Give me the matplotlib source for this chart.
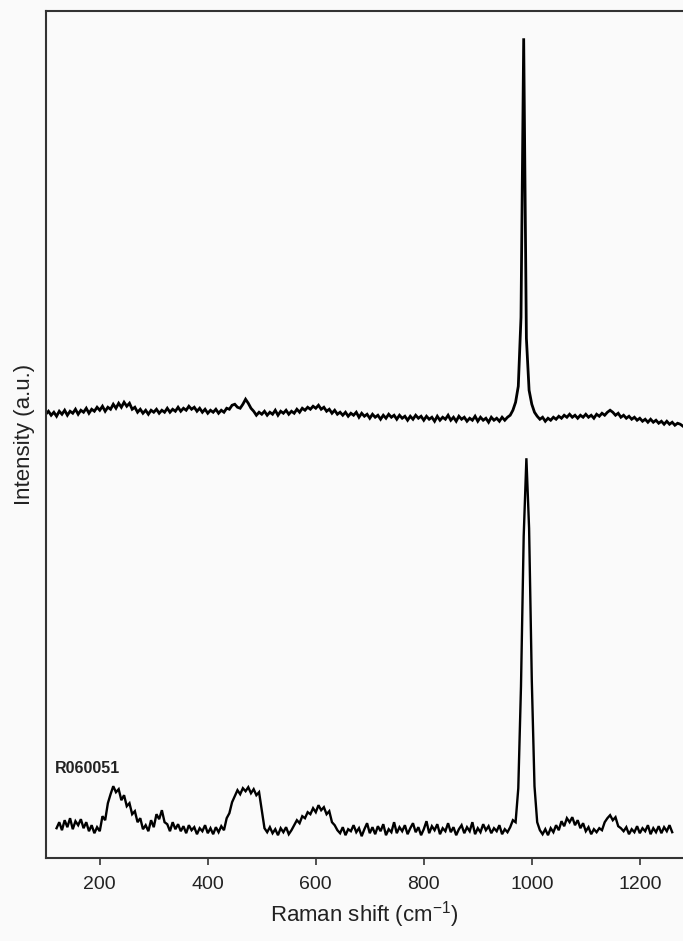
import numpy as np
import matplotlib.pyplot as plt

# Raman shift grid (cm-1) for each trace
shift_bottom = np.arange(120, 1261, 5)
shift_top = np.arange(100, 1281, 5)

# intensities (arbitrary units, offset already included)
bottom = [
    30, 36, 28, 38, 31, 40, 29, 37, 33, 39,
    30, 36, 27, 33, 25, 31, 27, 42, 38, 55,
    64, 72, 66, 69, 58, 63, 52, 55, 44, 47,
    36, 40, 29, 33, 27, 38, 31, 44, 39, 48,
    36, 34, 27, 36, 29, 34, 27, 32, 25, 33,
    28, 31, 24, 30, 27, 33, 25, 30, 24, 31,
    26, 32, 28, 40, 45, 56, 62, 68, 64, 70,
    67, 71, 65, 69, 63, 66, 48, 30, 26, 31,
    25, 29, 23, 30, 26, 31, 24, 28, 33, 38,
    35, 42, 40, 46, 44, 50, 46, 53, 48, 51,
    44, 47, 36, 33, 28, 25, 31, 23, 29, 27,
    33, 26, 30, 22, 29, 35, 25, 31, 24, 32,
    27, 34, 23, 29, 26, 36, 25, 31, 27, 33,
    24, 30, 35, 26, 31, 23, 29, 37, 25, 32,
    28, 34, 24, 30, 27, 35, 26, 31, 23, 29,
    33, 25, 31, 27, 36, 24, 30, 26, 34, 28,
    32, 25, 30, 27, 33, 24, 29, 26, 31, 38,
    36, 70, 172, 322, 400, 330, 178, 72, 36, 28,
    24, 29, 23, 30, 26, 33, 28, 37, 32, 40,
    36, 41, 33, 38, 30, 35, 27, 31, 24, 29,
    26, 30, 28, 36, 40, 43, 38, 41, 32, 30,
    27, 31, 24, 29, 26, 32, 25, 30, 27, 33,
    24, 30, 26, 32, 25, 31, 27, 33, 26,
]

top = [
    444, 447, 443, 446, 442, 447, 444, 448, 443, 447,
    445, 449, 444, 448, 446, 450, 445, 449, 447, 451,
    448, 452, 447, 451, 449, 454, 450, 455, 451, 456,
    452, 455, 449, 451, 446, 449, 445, 448, 444, 448,
    446, 449, 445, 448, 446, 450, 446, 449, 447, 451,
    447, 450, 448, 452, 449, 451, 447, 450, 446, 449,
    445, 448, 446, 449, 445, 448, 446, 450, 449, 453,
    454, 451, 450, 454, 459, 455, 450, 447, 443, 446,
    444, 447, 443, 446, 444, 448, 443, 447, 445, 448,
    444, 447, 445, 449, 446, 450, 448, 451, 449, 452,
    450, 453, 449, 451, 447, 449, 445, 448, 444, 446,
    443, 446, 442, 445, 443, 446, 441, 445, 442, 444,
    440, 444, 441, 443, 439, 443, 440, 444, 441, 443,
    439, 443, 440, 442, 438, 442, 439, 443, 440, 442,
    438, 442, 439, 441, 437, 442, 438, 441, 439, 443,
    438, 441, 437, 442, 439, 441, 437, 440, 438, 442,
    437, 441, 438, 440, 436, 441, 438, 440, 437, 441,
    438, 441, 443, 448, 456, 472, 541, 820, 520, 468,
    454, 446, 442, 439, 441, 437, 440, 438, 441, 439,
    442, 440, 443, 441, 444, 441, 443, 440, 443, 441,
    444, 441, 443, 440, 444, 442, 445, 443, 446, 448,
    446, 443, 445, 441, 443, 440, 442, 439, 441, 438,
    440, 437, 439, 436, 439, 436, 438, 435, 437, 434,
    437, 434, 436, 433, 435, 434, 432,
]

xticks = [200, 400, 600, 800, 1000, 1200]
sample_id = "R060051"

plt.rcParams['font.family'] = ['Liberation Sans', 'DejaVu Sans']
plt.rcParams['mathtext.default'] = 'regular'
bg = '#fafafa'
spine_col = '#333333'
txt_col = '#222222'

fig = plt.figure(figsize=(6.83, 9.41), dpi=100, facecolor=bg)
ax = fig.add_axes([0.067, 0.088, 0.933, 0.9], facecolor=bg)

ax.plot(shift_bottom, bottom, color='black', lw=1.7, solid_joinstyle='miter')
ax.plot(shift_top, top, color='black', lw=2.0, solid_joinstyle='miter')

ax.set_xlim(100, 1280)
ax.set_ylim(0, 847)
ax.set_xticks(xticks)
ax.set_yticks([])
ax.tick_params(axis='x', direction='out', length=5, width=1.2, color=spine_col,
               labelsize=14, labelcolor=txt_col, pad=8)

for side in ['left', 'bottom', 'top']:
    ax.spines[side].set_color(spine_col)
    ax.spines[side].set_linewidth(1.5)
ax.spines['right'].set_visible(False)

ax.set_xlabel('Raman shift (cm$^{-1}$)', fontsize=16, labelpad=4, color=txt_col)
ax.set_ylabel('Intensity (a.u.)', fontsize=16, labelpad=8, color=txt_col)

ax.text(117, 90, sample_id, fontsize=11.5, fontweight='bold', va='center', ha='left',
        color=txt_col)

fig.savefig('out.png', dpi=100, facecolor=bg)
